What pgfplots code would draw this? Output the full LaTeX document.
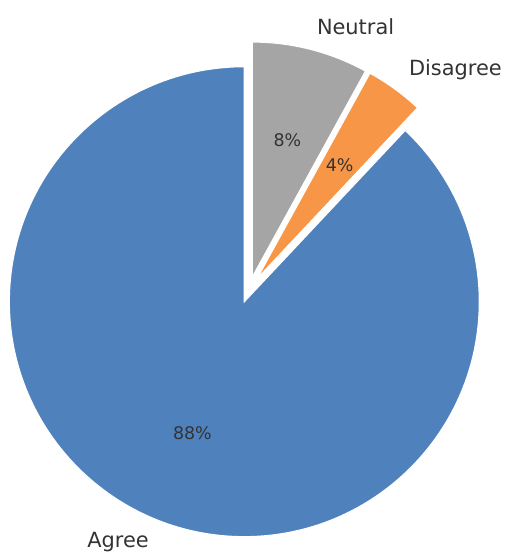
\documentclass[border=0pt]{standalone}
\usepackage{fontspec}
\setmainfont{DejaVu Sans}
\usepackage{pgfplots}
\pgfplotsset{compat=1.18}

\definecolor{agreecol}{HTML}{4F81BD}
\definecolor{neutralcol}{HTML}{A5A5A5}
\definecolor{disagreecol}{HTML}{F79646}
\definecolor{txtcol}{HTML}{333333}

% geometry in pixels of the reference (1 px = 0.5pt)
\def\R{235}      % pie radius
\def\ex{13}      % explode offset
\def\cx{249.1}
\def\cy{-289.6}
\def\pxlen{0.5pt}

\tikzset{
  lab/.style={font=\fontsize{10.45}{12}\selectfont, text=txtcol, inner sep=0pt},
  pct/.style={font=\fontsize{8.7}{10}\selectfont, text=txtcol, inner sep=0pt},
}

% #1 value, #2 colour, #3 label, #4 label anchor
\newcommand\slice[4]{%
  \pgfmathsetmacro\sa{\curang}%
  \pgfmathsetmacro\ea{\curang+3.6*#1}%
  \pgfmathsetmacro\mid{(\sa+\ea)/2}%
  \pgfmathsetmacro\ox{\cx+\ex*cos(\mid)}%
  \pgfmathsetmacro\oy{\cy+\ex*sin(\mid)}%
  \pgfmathsetmacro\px{\ox+0.6*\R*cos(\mid)}%
  \pgfmathsetmacro\py{\oy+0.6*\R*sin(\mid)}%
  \pgfmathsetmacro\lx{\ox+1.1*\R*cos(\mid)}%
  \pgfmathsetmacro\ly{\oy+1.1*\R*sin(\mid)}%
  \pgfmathsetmacro\rad{\R*0.5}%
  \pgfmathtruncatemacro\pv{#1}%
  \edef\temp{%
    \noexpand\fill[#2, draw=white, line width=0.6pt]
      (axis cs:\ox,\oy) -- ++(\sa:\rad pt)
      arc[start angle=\sa, end angle=\ea, radius=\rad pt] -- cycle;
    \noexpand\node[pct] at (axis cs:\px,\py) {\pv\noexpand\%};
    \noexpand\node[lab, anchor=#4] at (axis cs:\lx,\ly) {#3};
  }%
  \temp
  \global\let\curang\ea
}

\begin{document}
\begin{tikzpicture}
\begin{axis}[
    hide axis,
    x=\pxlen, y=\pxlen,
    xmin=0, xmax=504,
    ymin=-552, ymax=0,
    clip=false,
]
\gdef\curang{90}
\slice{88}{agreecol}{Agree}{east}
\slice{4}{disagreecol}{Disagree}{west}
\slice{8}{neutralcol}{Neutral}{west}
\end{axis}
\pgfresetboundingbox
\path (current axis.south west) rectangle (current axis.north east);
\end{tikzpicture}
\end{document}
